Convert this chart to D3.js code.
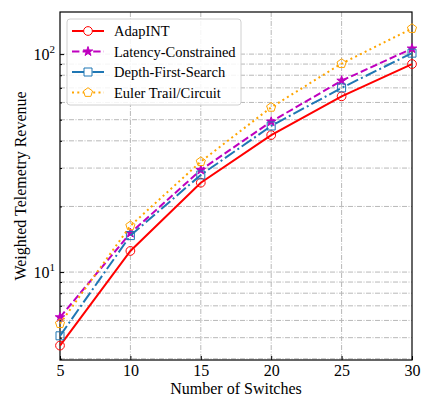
<!DOCTYPE html>
<html><head><meta charset="utf-8">
<script src="https://cdn.jsdelivr.net/npm/d3@7"></script>
<style>body{margin:0;background:#fff}svg{display:block}text{font-family:"Liberation Serif","DejaVu Serif",serif}</style>
</head><body><svg id="c" width="425" height="400"></svg>
<script>
const switches = [5, 10, 15, 20, 25, 30];
const adapINT = [4.6, 12.5, 25.7, 42.5, 64, 90];
const latencyConstrained = [6.2, 15.1, 29.4, 49, 75.5, 106];
const depthFirstSearch = [5.1, 14.7, 27.9, 46.8, 70, 101];
const eulerTrail = [5.8, 16.3, 32.1, 57, 90.5, 131];
const seriesNames = ["AdapINT", "Latency-Constrained", "Depth-First-Search", "Euler Trail/Circuit"];
const xTicks = [5, 10, 15, 20, 25, 30];

const svg = d3.select("#c");
const L = 60, R = 412, T = 12, B = 360;
const x = d3.scaleLinear().domain([5, 30]).range([L, R]);
const y = d3.scaleLog().domain([3.95, 156]).range([B, T]);

const styles = [
  {color: "#ff0000", dash: null, marker: "circle"},
  {color: "#bf00bf", dash: "7.4,3.2", marker: "star"},
  {color: "#1f77b4", dash: "12,3.2,2,3.2", marker: "square"},
  {color: "#ffa500", dash: "2,3.3", marker: "pentagon"}
];
const data = [adapINT, latencyConstrained, depthFirstSearch, eulerTrail];

// grid
const yMinor = [4,5,6,7,8,9,10,20,30,40,50,60,70,80,90,100];
const g = svg.append("g");
g.selectAll(".gy").data(yMinor).enter().append("line")
  .attr("x1", L).attr("x2", R).attr("y1", d => y(d)).attr("y2", d => y(d))
  .attr("stroke", "#b8b8b8").attr("stroke-width", 1).attr("stroke-dasharray", "5,1.5,1,1.5");
g.selectAll(".gx").data(xTicks.slice(1, -1)).enter().append("line")
  .attr("x1", d => x(d)).attr("x2", d => x(d)).attr("y1", T).attr("y2", B)
  .attr("stroke", "#b8b8b8").attr("stroke-width", 1).attr("stroke-dasharray", "5,1.5,1,1.5");

// axes
const xAxis = d3.axisBottom(x).tickValues(xTicks).tickSizeInner(-4).tickSizeOuter(0).tickPadding(5);
const ax = svg.append("g").attr("transform", `translate(0,${B})`).call(xAxis);
ax.select(".domain").remove();
ax.selectAll("text").attr("font-size", 16).attr("fill", "#000").attr("font-family", "Liberation Serif");
ax.selectAll("line").attr("stroke", "#000");

const yAxisMaj = d3.axisLeft(y).tickValues([10, 100]).tickSizeInner(-4).tickSizeOuter(0).tickFormat("");
const ay = svg.append("g").attr("transform", `translate(${L},0)`).call(yAxisMaj);
ay.select(".domain").remove();
ay.selectAll("line").attr("stroke", "#000");
const yAxisMin = d3.axisLeft(y).tickValues([4,5,6,7,8,9,20,30,40,50,60,70,80,90]).tickSizeInner(-2).tickSizeOuter(0).tickFormat("");
const ay2 = svg.append("g").attr("transform", `translate(${L},0)`).call(yAxisMin);
ay2.select(".domain").remove();
ay2.selectAll("line").attr("stroke", "#000");

[10, 100].forEach((v, i) => {
  const t = svg.append("text").attr("x", L - 5).attr("y", y(v) + 6).attr("text-anchor", "end")
    .attr("font-size", 16).attr("fill", "#000");
  t.append("tspan").text("10");
  t.append("tspan").attr("dy", -7).attr("font-size", 11).text(String(i + 1));
});

svg.append("rect").attr("x", L).attr("y", T).attr("width", R - L).attr("height", B - T)
  .attr("fill", "none").attr("stroke", "#000").attr("stroke-width", 1.2);

// markers
function markerPath(type) {
  if (type === "circle") return d3.symbol(d3.symbolCircle, 60)();
  if (type === "square") return d3.symbol(d3.symbolSquare, 64)();
  if (type === "star") return d3.symbol(d3.symbolStar, 28)();
  const r = 4.8, pts = [];
  for (let k = 0; k < 5; k++) { const a = -Math.PI / 2 + k * 2 * Math.PI / 5; pts.push([r * Math.cos(a), r * Math.sin(a)]); }
  return "M" + pts.map(p => p.join(",")).join("L") + "Z";
}

const line = d3.line().x((d, i) => x(switches[i])).y(d => y(d));
data.forEach((vals, si) => {
  const st = styles[si];
  svg.append("path").datum(vals).attr("d", line).attr("fill", "none")
    .attr("stroke", st.color).attr("stroke-width", 2)
    .attr("stroke-dasharray", st.dash);
  svg.selectAll(".m" + si).data(vals).enter().append("path")
    .attr("transform", (d, i) => `translate(${x(switches[i])},${y(d)})`)
    .attr("d", markerPath(st.marker))
    .attr("fill", st.marker === "star" ? st.color : "none")
    .attr("stroke", st.color).attr("stroke-width", 1);
});

// legend
const lg = svg.append("g");
lg.append("rect").attr("x", 67).attr("y", 19).attr("width", 174).attr("height", 86).attr("rx", 3)
  .attr("fill", "#fff").attr("fill-opacity", 0.85).attr("stroke", "#d0d0d0").attr("stroke-width", 1);
seriesNames.forEach((n, i) => {
  const st = styles[i], yy = 31 + i * 20.5;
  lg.append("line").attr("x1", 72).attr("x2", 104).attr("y1", yy).attr("y2", yy)
    .attr("stroke", st.color).attr("stroke-width", 2).attr("stroke-dasharray", st.dash);
  lg.append("path").attr("transform", `translate(88,${yy})`).attr("d", markerPath(st.marker))
    .attr("fill", st.marker === "star" ? st.color : "#fff").attr("stroke", st.color).attr("stroke-width", 1);
  lg.append("text").attr("x", 114).attr("y", yy + 5).attr("font-size", 14.5).attr("fill", "#000").text(n);
});

// axis titles
svg.append("text").attr("x", 236).attr("y", 394).attr("text-anchor", "middle")
  .attr("font-size", 16).attr("fill", "#000").text("Number of Switches");
svg.append("text").attr("transform", `translate(26,${(T + B) / 2}) rotate(-90)`).attr("text-anchor", "middle")
  .attr("font-size", 16).attr("fill", "#000").text("Weighted Telemetry Revenue");
</script></body></html>
